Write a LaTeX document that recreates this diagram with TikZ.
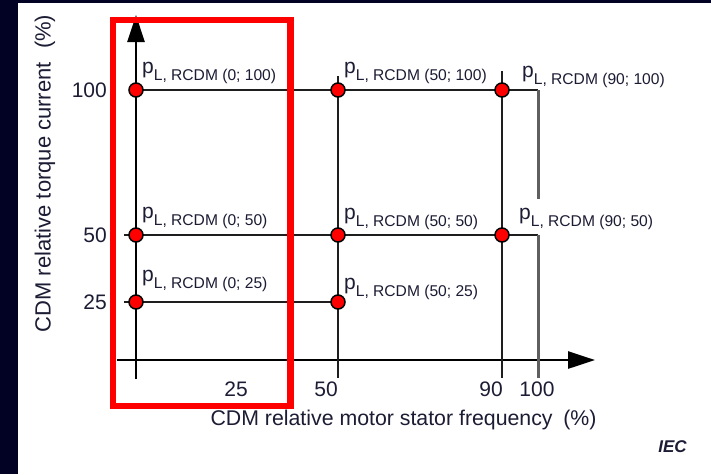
\documentclass[tikz,border=0pt]{standalone}
\usepackage{fontspec}
\setmainfont{Liberation Sans}
\usetikzlibrary{arrows.meta}
\pgfdeclarelayer{bg}
\pgfdeclarelayer{paper}
\pgfsetlayers{paper,bg,main}
\definecolor{navy}{RGB}{2,2,36}
\definecolor{txt}{RGB}{28,28,52}
\definecolor{gline}{RGB}{30,30,30}
\definecolor{grayline}{RGB}{95,95,95}
\newcommand\plab[1]{{\fontsize{21}{21}\selectfont p\raisebox{-7pt}{\fontsize{15.6}{15.6}\selectfont #1}}}
\begin{document}
\begin{tikzpicture}[x=1pt,y=-1pt,
  dot/.style={circle, fill=red, draw=black, line width=1.5pt, minimum size=14pt, inner sep=0pt},
  axisline/.style={line width=2.8pt, black, -{Triangle[length=27pt,width=17pt]}},
  gridl/.style={line width=2.8pt, gline},
  grayl/.style={line width=3pt, grayline},
  lab/.style={anchor=base west, inner sep=0pt, text=txt},
  tick/.style={inner sep=0pt, text=txt, font=\fontsize{21}{21}\selectfont},
  title/.style={inner sep=0pt, text=txt, font=\fontsize{21.3}{21.3}\selectfont},
  hilite/.style={draw=red, line width=6.5pt}]
\useasboundingbox (0,0) rectangle (711,474);
\begin{pgfonlayer}{paper}
\fill[navy] (0,0) rectangle (711,474);
\fill[white] (18,3) rectangle (711,474);
\end{pgfonlayer}
% coordinates
\coordinate (yb) at (136,379); \coordinate (yt) at (136,15);
\coordinate (xl) at (117,360); \coordinate (xr) at (595,360);
\coordinate (c100) at (538,90); \coordinate (g100) at (538,199);
\coordinate (c50) at (538,235); \coordinate (e100) at (538,378);
\coordinate (l50) at (124,235); \coordinate (l25) at (124,302);
\coordinate (t50) at (338,76); \coordinate (e50) at (338,378);
\coordinate (t90) at (502,71); \coordinate (e90) at (502,378);
% dots
\node[dot] (d0h) at (136,90) {};
\node[dot] (d0f) at (136,235) {};
\node[dot] (d0q) at (136,302) {};
\node[dot] (d5h) at (338,90) {};
\node[dot] (d5f) at (338,235) {};
\node[dot] (d5q) at (338,302) {};
\node[dot] (d9h) at (502,90) {};
\node[dot] (d9f) at (502,235) {};
\begin{pgfonlayer}{bg}
\draw[axisline] (yb) -- (yt);
\draw[axisline] (xl) -- (xr);
\draw[gridl] (d0h.center) -- (c100);
\draw[gridl] (l50) -- (c50);
\draw[gridl] (l25) -- (d5q.center);
\draw[gridl] (t50) -- (e50);
\draw[gridl] (t90) -- (e90);
\draw[grayl] (c100) -- (g100);
\draw[grayl] (c50) -- (e100);
\end{pgfonlayer}
% point labels
\node[lab] (p0h) at (142,73) {\plab{L, RCDM (0; 100)}};
\node[lab] (p5h) at (344,73) {\plab{L, RCDM (50; 100)}};
\node[lab] (p9h) at (522,77) {\plab{L, RCDM (90; 100)}};
\node[lab] (p0f) at (142,218) {\plab{L, RCDM (0; 50)}};
\node[lab] (p5f) at (344,219) {\plab{L, RCDM (50; 50)}};
\node[lab] (p9f) at (519,219) {\plab{L, RCDM (90; 50)}};
\node[lab] (p0q) at (142,281) {\plab{L, RCDM (0; 25)}};
\node[lab] (p5q) at (344,289) {\plab{L, RCDM (50; 25)}};
% tick labels
\node[tick, anchor=east] (ty100) at (107,90) {100};
\node[tick, anchor=east] (ty50) at (107,235) {50};
\node[tick, anchor=east] (ty25) at (107,302) {25};
\node[tick] (tx25) at (236,389) {25};
\node[tick] (tx50) at (326,389) {50};
\node[tick] (tx90) at (491,389) {90};
\node[tick] (tx100) at (537,389) {100};
% titles
\node[title] (xt) at (403.5,420) {CDM relative motor stator frequency\hspace{0.5em}(\%)};
\node[title, rotate=90, font=\fontsize{22}{22}\selectfont] (ytl) at (45,173.5) {CDM relative torque current\hspace{0.6em}(\%)};
\node[inner sep=0pt, text=txt, font=\fontsize{17}{17}\selectfont\bfseries\itshape] (iec) at (672.5,447) {IEC};
% highlight
\draw[hilite] (113,20) rectangle (290.5,406);
\end{tikzpicture}
\end{document}
